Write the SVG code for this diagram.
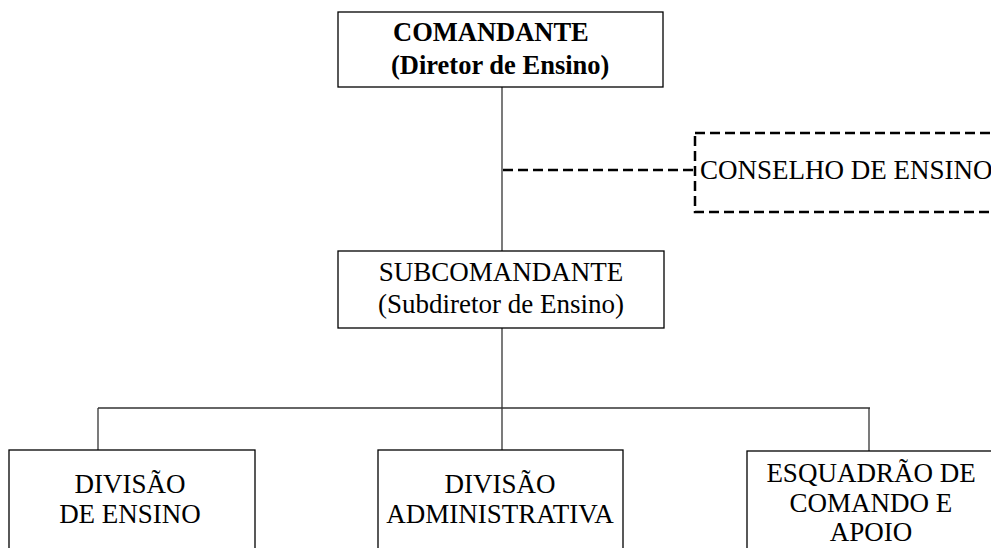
<svg xmlns="http://www.w3.org/2000/svg" width="991" height="548" viewBox="0 0 991 548">
<style>
.box{fill:#fff;stroke:#000;stroke-width:1.3}
.dbox{fill:none;stroke:#000;stroke-width:2.5;stroke-dasharray:10 5}
.ln{fill:none;stroke:#333;stroke-width:1.3}
.dl{fill:none;stroke:#000;stroke-width:2.5;stroke-dasharray:10 5}
text{font-family:"Liberation Serif","Times New Roman",serif;font-size:27px;fill:#000}
.b{font-weight:bold;font-size:26.5px}
.m{text-anchor:middle}
</style>
<rect width="991" height="548" fill="#fff"/>
<g id="connectors">
<line class="ln" x1="502" y1="87" x2="502" y2="251"/>
<line class="dl" x1="503" y1="170" x2="695" y2="170"/>
<line class="ln" x1="502" y1="328" x2="502" y2="408"/>
<line class="ln" x1="98" y1="408" x2="870" y2="408"/>
<line class="ln" x1="98" y1="408" x2="98" y2="450"/>
<line class="ln" x1="502" y1="408" x2="502" y2="450"/>
<line class="ln" x1="869" y1="408" x2="869" y2="451"/>
</g>
<g id="comandante">
<rect class="box" x="338" y="12" width="325" height="75"/>
<text class="b" x="393" y="41">COMANDANTE</text>
<text class="b" x="391" y="74">(Diretor de Ensino)</text>
</g>
<g id="conselho">
<rect class="dbox" x="695" y="133" width="310" height="79"/>
<text x="700" y="179">CONSELHO DE ENSINO</text>
</g>
<g id="subcomandante">
<rect class="box" x="338" y="251" width="326" height="77"/>
<text class="m" x="501" y="281">SUBCOMANDANTE</text>
<text class="m" x="501" y="313">(Subdiretor de Ensino)</text>
</g>
<g id="div-ensino">
<rect class="box" x="9" y="450" width="246" height="110"/>
<text class="m" x="130" y="493">DIVISÃO</text>
<text class="m" x="130" y="523">DE ENSINO</text>
</g>
<g id="div-adm">
<rect class="box" x="378" y="450" width="245" height="110"/>
<text class="m" x="500" y="493">DIVISÃO</text>
<text class="m" x="500" y="523">ADMINISTRATIVA</text>
</g>
<g id="esquadrao">
<rect class="box" x="747" y="451" width="260" height="110"/>
<text class="m" x="871" y="482">ESQUADRÃO DE</text>
<text class="m" x="871" y="512">COMANDO E</text>
<text class="m" x="871" y="541">APOIO</text>
</g>
</svg>
